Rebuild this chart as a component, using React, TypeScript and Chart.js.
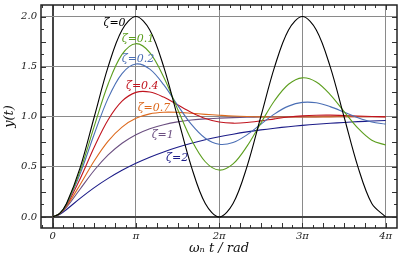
import React, { useEffect, useRef } from "react";
import { Chart, registerables } from "chart.js";

Chart.register(...registerables);

// time axis in units of π (ω_n t / π)
const tPi = [0, 0.0833, 0.1667, 0.3333, 0.5, 0.6667, 0.8333, 1, 1.1667, 1.3333, 1.5, 1.6667, 1.8333, 2, 2.1667, 2.3333, 2.5, 2.6667, 2.8333, 3, 3.1667, 3.3333, 3.5, 3.6667, 3.8333, 4];

const zeta0 = [0, 0.034, 0.134, 0.5, 1, 1.5, 1.866, 2, 1.866, 1.5, 1, 0.5, 0.134, 0, 0.134, 0.5, 1, 1.5, 1.866, 2, 1.866, 1.5, 1, 0.5, 0.134, 0];
const zeta01 = [0, 0.0335, 0.130, 0.468, 0.907, 1.327, 1.622, 1.729, 1.640, 1.397, 1.078, 0.770, 0.551, 0.468, 0.529, 0.704, 0.936, 1.162, 1.324, 1.388, 1.346, 1.221, 1.052, 0.886, 0.766, 0.718];
const zeta02 = [0, 0.0329, 0.125, 0.438, 0.828, 1.186, 1.431, 1.526, 1.475, 1.320, 1.116, 0.923, 0.785, 0.725, 0.743, 0.819, 0.925, 1.029, 1.106, 1.143, 1.139, 1.101, 1.047, 0.991, 0.948, 0.926];
const zeta04 = [0, 0.0318, 0.117, 0.387, 0.699, 0.970, 1.155, 1.243, 1.247, 1.196, 1.119, 1.043, 0.983, 0.948, 0.936, 0.942, 0.959, 0.979, 0.997, 1.009, 1.015, 1.016, 1.013, 1.008, 1.003, 0.999];
const zeta07 = [0, 0.0303, 0.107, 0.327, 0.561, 0.757, 0.897, 0.984, 1.029, 1.045, 1.044, 1.035, 1.024, 1.015, 1.007, 1.002, 0.999, 0.998, 0.998, 0.998, 0.999, 0.999, 1.0, 1.0, 1.0, 1.0];
const zeta1 = [0, 0.0289, 0.097, 0.282, 0.466, 0.619, 0.736, 0.821, 0.881, 0.921, 0.949, 0.967, 0.979, 0.986, 0.991, 0.995, 0.997, 0.998, 0.999, 0.999, 0.999, 1.0, 1.0, 1.0, 1.0, 1.0];
const zeta2 = [0, 0.0248, 0.075, 0.188, 0.293, 0.385, 0.466, 0.536, 0.597, 0.649, 0.695, 0.735, 0.770, 0.800, 0.826, 0.849, 0.869, 0.886, 0.901, 0.914, 0.925, 0.935, 0.943, 0.951, 0.957, 0.963];

const seriesValues = [zeta0, zeta01, zeta02, zeta04, zeta07, zeta1, zeta2];
const seriesNames = ["ζ=0", "ζ=0.1", "ζ=0.2", "ζ=0.4", "ζ=0.7", "ζ=1", "ζ=2"];
const seriesColors = ["#000000", "#5c9e1e", "#4b6fb5", "#c0141e", "#dd6a1e", "#6b4f80", "#1c1c88"];

// label anchors (data units: x in π, y value)
const labelX = [0.61, 0.829, 0.829, 0.88, 1.021, 1.189, 1.361];
const labelY = [1.936, 1.771, 1.572, 1.302, 1.088, 0.813, 0.589];

const xTickValues = [0, 1, 2, 3, 4];
const xTickLabels = ["0", "π", "2π", "3π", "4π"];
const yTickValues = [0, 0.5, 1, 1.5, 2];
const yTickLabels = ["0.0", "0.5", "1.0", "1.5", "2.0"];

const xMinorTicks = [-0.125, 0, 0.125, 0.25, 0.375, 0.5, 0.625, 0.75, 0.875, 1, 1.125, 1.25, 1.375, 1.5, 1.625, 1.75, 1.875, 2, 2.125, 2.25, 2.375, 2.5, 2.625, 2.75, 2.875, 3, 3.125, 3.25, 3.375, 3.5, 3.625, 3.75, 3.875, 4, 4.125];
const yMinorTicks = [0, 0.125, 0.25, 0.375, 0.5, 0.625, 0.75, 0.875, 1, 1.125, 1.25, 1.375, 1.5, 1.625, 1.75, 1.875, 2];

const SERIF = "'DejaVu Serif', 'Liberation Serif', serif";

const decorPlugin = {
  id: "decor",
  afterDatasetsDraw(chart: any) {
    const { ctx, chartArea: a, scales } = chart;
    const xs = scales.x;
    const ys = scales.y;
    ctx.save();
    // curve labels
    ctx.font = `italic 11px ${SERIF}`;
    ctx.textAlign = "left";
    ctx.textBaseline = "middle";
    seriesNames.forEach((name, i) => {
      ctx.fillStyle = seriesColors[i];
      ctx.fillText(name, xs.getPixelForValue(labelX[i]), ys.getPixelForValue(labelY[i]));
    });
    // minor ticks (inward)
    ctx.strokeStyle = "#333";
    ctx.lineWidth = 1;
    ctx.beginPath();
    xMinorTicks.forEach((v) => {
      const px = Math.round(xs.getPixelForValue(v)) + 0.5;
      if (px <= a.left + 1 || px >= a.right - 1) return;
      const len = Math.abs(v * 4 - Math.round(v * 4)) < 1e-6 ? 5 : 3;
      ctx.moveTo(px, a.top);
      ctx.lineTo(px, a.top + len);
      ctx.moveTo(px, a.bottom);
      ctx.lineTo(px, a.bottom - len);
    });
    yMinorTicks.forEach((v) => {
      const py = Math.round(ys.getPixelForValue(v)) + 0.5;
      if (py <= a.top + 1 || py >= a.bottom - 1) return;
      const len = Math.abs(v * 4 - Math.round(v * 4)) < 1e-6 ? 5 : 3;
      ctx.moveTo(a.left, py);
      ctx.lineTo(a.left + len, py);
      ctx.moveTo(a.right, py);
      ctx.lineTo(a.right - len, py);
    });
    ctx.stroke();
    // frame
    ctx.strokeStyle = "#222";
    ctx.lineWidth = 1.5;
    ctx.strokeRect(a.left, a.top, a.right - a.left, a.bottom - a.top);
    ctx.restore();
  },
};

export default function App() {
  const canvasRef = useRef<HTMLCanvasElement | null>(null);

  useEffect(() => {
    const canvas = canvasRef.current;
    if (!canvas) return;
    const datasets = seriesValues.map((vals, i) => ({
      label: seriesNames[i],
      data: tPi.map((t, k) => ({ x: t, y: vals[k] })),
      borderColor: seriesColors[i],
      backgroundColor: seriesColors[i],
      borderWidth: 1.1,
      pointRadius: 0,
      fill: false,
      tension: 0.34,
    }));

    const gridColor = (c: any) => (c.tick && c.tick.value === 0 ? "#444" : "#8a8a8a");
    const gridWidth = (c: any) => (c.tick && c.tick.value === 0 ? 2 : 1);

    const chart = new Chart(canvas, {
      type: "line",
      data: { datasets },
      plugins: [decorPlugin],
      options: {
        animation: false,
        responsive: false,
        devicePixelRatio: 1,
        layout: { padding: { top: 5, right: 3, left: 0, bottom: 0 } },
        plugins: { legend: { display: false }, tooltip: { enabled: false } },
        scales: {
          x: {
            type: "linear",
            min: -0.14,
            max: 4.136,
            afterBuildTicks: (s: any) => {
              s.ticks = xTickValues.map((v) => ({ value: v }));
            },
            afterFit: (s: any) => {
              s.height = 28;
              s.paddingLeft = 0;
              s.paddingRight = 0;
            },
            ticks: {
              autoSkip: false,
              maxRotation: 0,
              padding: 2,
              color: "#222",
              font: { family: SERIF, style: "italic", size: 10 },
              callback: (_v: any, i: number) => xTickLabels[i],
            },
            grid: { drawTicks: false, color: gridColor, lineWidth: gridWidth },
            border: { display: false },
            title: {
              display: true,
              text: "ωₙ t / rad",
              color: "#111",
              font: { family: SERIF, style: "italic", size: 13 },
              padding: { top: 0, bottom: 0 },
            },
          },
          y: {
            type: "linear",
            min: -0.11,
            max: 2.115,
            afterBuildTicks: (s: any) => {
              s.ticks = yTickValues.map((v) => ({ value: v }));
            },
            afterFit: (s: any) => {
              s.width = 41;
              s.paddingTop = 0;
              s.paddingBottom = 0;
            },
            ticks: {
              padding: 4,
              color: "#222",
              font: { family: SERIF, style: "italic", size: 10, lineHeight: 1 },
              callback: (_v: any, i: number) => yTickLabels[i],
            },
            grid: { drawTicks: false, color: gridColor, lineWidth: gridWidth },
            border: { display: false },
            title: {
              display: true,
              text: "y(t)",
              color: "#111",
              font: { family: SERIF, style: "italic", size: 13 },
              padding: { top: 2, bottom: 0 },
            },
          },
        },
      },
    });
    return () => chart.destroy();
  }, []);

  return (
    <div style={{ position: "absolute", left: 0, top: 0, width: 400, height: 256, background: "#fff" }}>
      <canvas ref={canvasRef} width={400} height={256} style={{ width: 400, height: 256, display: "block" }} />
    </div>
  );
}
